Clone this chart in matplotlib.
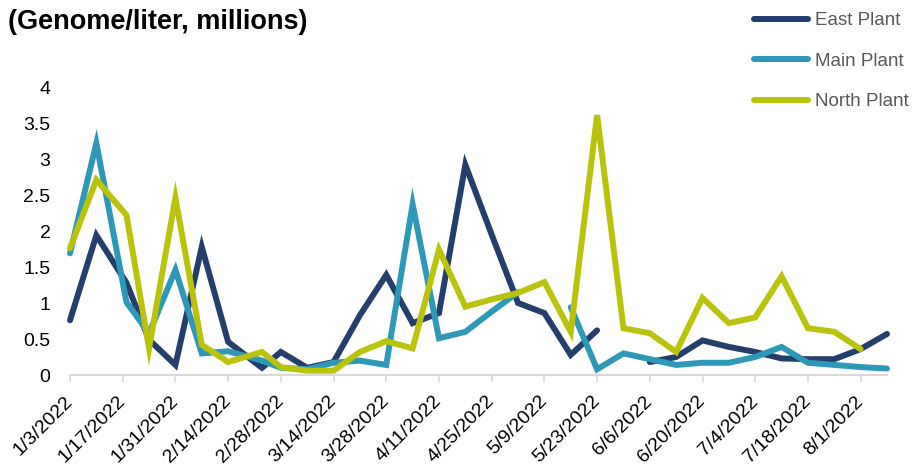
import numpy as np
import pandas as pd
import matplotlib
matplotlib.use("Agg")
import matplotlib.pyplot as plt

# sample dates (mostly weekly)
dates = pd.to_datetime([
    "2022-01-03", "2022-01-10", "2022-01-18", "2022-01-24", "2022-01-31",
    "2022-02-07", "2022-02-14", "2022-02-23", "2022-02-28", "2022-03-07",
    "2022-03-14", "2022-03-21", "2022-03-28", "2022-04-04", "2022-04-11",
    "2022-04-18", "2022-04-25", "2022-05-02", "2022-05-09", "2022-05-16",
    "2022-05-23", "2022-05-30", "2022-06-06", "2022-06-13", "2022-06-20",
    "2022-06-27", "2022-07-04", "2022-07-11", "2022-07-18", "2022-07-25",
    "2022-08-01", "2022-08-08",
])

nan = np.nan
east = [0.76, 1.94, 1.28, 0.49, 0.14, 1.78, 0.46, 0.10, 0.32, 0.10,
        0.18, 0.83, 1.39, 0.72, 0.86, 2.92, 1.95, 1.00, 0.86, 0.28,
        0.62, nan, 0.18, 0.25, 0.48, 0.39, 0.32, 0.23, 0.22, 0.22,
        0.36, 0.57]
main = [1.69, 3.22, 1.01, 0.58, 1.46, 0.30, 0.33, 0.20, 0.10, 0.08,
        0.17, 0.20, 0.14, 2.37, 0.51, 0.60, 0.88, 1.15, nan, 0.94,
        0.08, 0.30, 0.22, 0.14, 0.17, 0.17, 0.25, 0.39, 0.17, 0.14,
        0.11, 0.09]
north = [1.76, 2.71, 2.22, 0.37, 2.46, 0.42, 0.18, 0.32, 0.11, 0.06,
         0.06, 0.32, 0.47, 0.37, 1.74, 0.95, 1.05, 1.14, 1.29, 0.60,
         3.61, 0.65, 0.58, 0.32, 1.07, 0.72, 0.80, 1.37, 0.65, 0.60,
         0.36, nan]

series = [("East Plant", east, "#243f6c"),
          ("Main Plant", main, "#2e98b8"),
          ("North Plant", north, "#b9c30b")]

tick_dates = pd.date_range("2022-01-03", "2022-08-01", freq="14D")
yticks = [0, 0.5, 1, 1.5, 2, 2.5, 3, 3.5, 4]

plt.rcParams["font.family"] = ["Liberation Sans", "DejaVu Sans"]

fig = plt.figure(figsize=(9.14, 4.67), dpi=100)
ax = fig.add_axes([70 / 914, 1 - 375 / 467, 817 / 914, 288 / 467])

for name, vals, col in series:
    ax.plot(dates, vals, color=col, lw=4.3, label=name,
            solid_joinstyle="miter", solid_capstyle="round", clip_on=False)

ax.set_xlim(pd.Timestamp("2022-01-03"), pd.Timestamp("2022-08-08"))
ax.set_ylim(0, 4)
ax.set_yticks(yticks)
ax.set_yticklabels([f"{v:g}" for v in yticks])
ax.set_xticks(tick_dates)
ax.set_xticklabels([f"{d.month}/{d.day}/{d.year}" for d in tick_dates],
                   rotation=45, ha="right", va="center", rotation_mode="anchor")

for s in ["top", "right", "left"]:
    ax.spines[s].set_visible(False)
ax.spines["bottom"].set_color("#d9d9d9")
ax.spines["bottom"].set_linewidth(1.5)
ax.tick_params(axis="y", length=0, pad=14, labelsize=14)
ax.tick_params(axis="x", length=5, width=1.2, color="#d9d9d9", pad=12,
               labelsize=14)

fig.text(8 / 914, 1 - 22 / 467, "(Genome/liter, millions)", fontsize=19.5,
         fontweight="bold", va="center", ha="left")

leg = ax.legend(loc="upper left", bbox_to_anchor=(754 / 914, 1 - 12 / 467),
                bbox_transform=fig.transFigure, frameon=False,
                handlelength=2.9, handletextpad=0.35, labelspacing=1.25,
                borderpad=0, borderaxespad=0,
                prop={"family": "Liberation Sans", "size": 13.5})
for t in leg.get_texts():
    t.set_color("#595959")

fig.savefig("out.png", dpi=100)
